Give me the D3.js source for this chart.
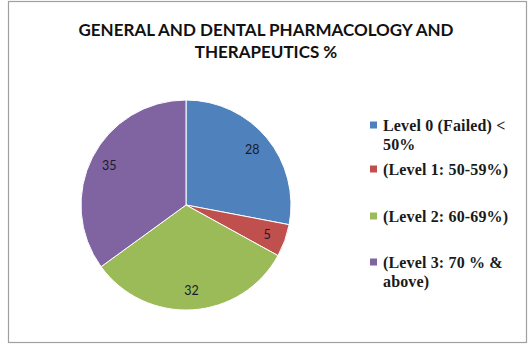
<!DOCTYPE html>
<html><head><meta charset="utf-8">
<script src="https://cdn.jsdelivr.net/npm/d3@7"></script>
<style>body{margin:0;background:#fff}svg{display:block}</style>
</head><body>
<script>
const categories = ["Level 0 (Failed) < 50%", "(Level 1: 50-59%)", "(Level 2: 60-69%)", "(Level 3: 70 % & above)"];
const legendLines = [["Level 0 (Failed) <", "50%"], ["(Level 1: 50-59%)"], ["(Level 2: 60-69%)"], ["(Level 3: 70 % &", "above)"]];
const values = [28, 5, 32, 35];
const colors = ["#4F81BD", "#C0504D", "#9BBB59", "#8064A2"];
const titleLines = ["GENERAL AND DENTAL PHARMACOLOGY AND", "THERAPEUTICS %"];

const W = 528, H = 347;
const svg = d3.select("body").append("svg").attr("width", W).attr("height", H);
svg.append("rect").attr("x", 8.5).attr("y", 1.5).attr("width", 518).attr("height", 341)
  .attr("fill", "#fff").attr("stroke", "#a0a0a0").attr("stroke-width", 1.2);

svg.append("g").selectAll("text").data(titleLines).join("text")
  .attr("x", 266).attr("y", (d, i) => 36 + i * 22)
  .attr("text-anchor", "middle")
  .attr("font-family", "Lato, 'Open Sans', sans-serif").attr("font-weight", "bold")
  .attr("font-size", 17).attr("fill", "#111")
  .text(d => d);

const cx = 186, cy = 205, r = 105;
const pie = d3.pie().sort(null).value(d => d);
const arcs = pie(values);
const arc = d3.arc().innerRadius(0).outerRadius(r);
const labelArc = d3.arc().innerRadius(r * 0.82).outerRadius(r * 0.82);
const g = svg.append("g").attr("transform", `translate(${cx},${cy})`);
g.selectAll("path").data(arcs).join("path")
  .attr("d", arc).attr("fill", (d, i) => colors[i])
  .attr("stroke", "#fff").attr("stroke-width", 1);
g.selectAll("text").data(arcs).join("text")
  .attr("transform", d => `translate(${labelArc.centroid(d)})`)
  .attr("text-anchor", "middle").attr("dy", "0.35em")
  .attr("font-family", "Lato, 'Open Sans', sans-serif").attr("font-size", 12.5)
  .attr("fill", "#1a1a2a")
  .text(d => d.data);

const baseY = [131, 175, 222, 268];
const lg = svg.append("g");
categories.forEach((c, i) => {
  lg.append("rect").attr("x", 370).attr("y", baseY[i] - 9.5).attr("width", 7).attr("height", 7)
    .attr("fill", colors[i]);
  legendLines[i].forEach((t, j) => {
    lg.append("text").attr("x", 383).attr("y", baseY[i] + j * 19)
      .attr("font-family", "'Liberation Serif', 'Times New Roman', serif").attr("font-weight", "bold")
      .attr("font-size", 16).attr("letter-spacing", 0.15).attr("fill", "#1a1a1a")
      .text(t);
  });
});
</script>
</body></html>
